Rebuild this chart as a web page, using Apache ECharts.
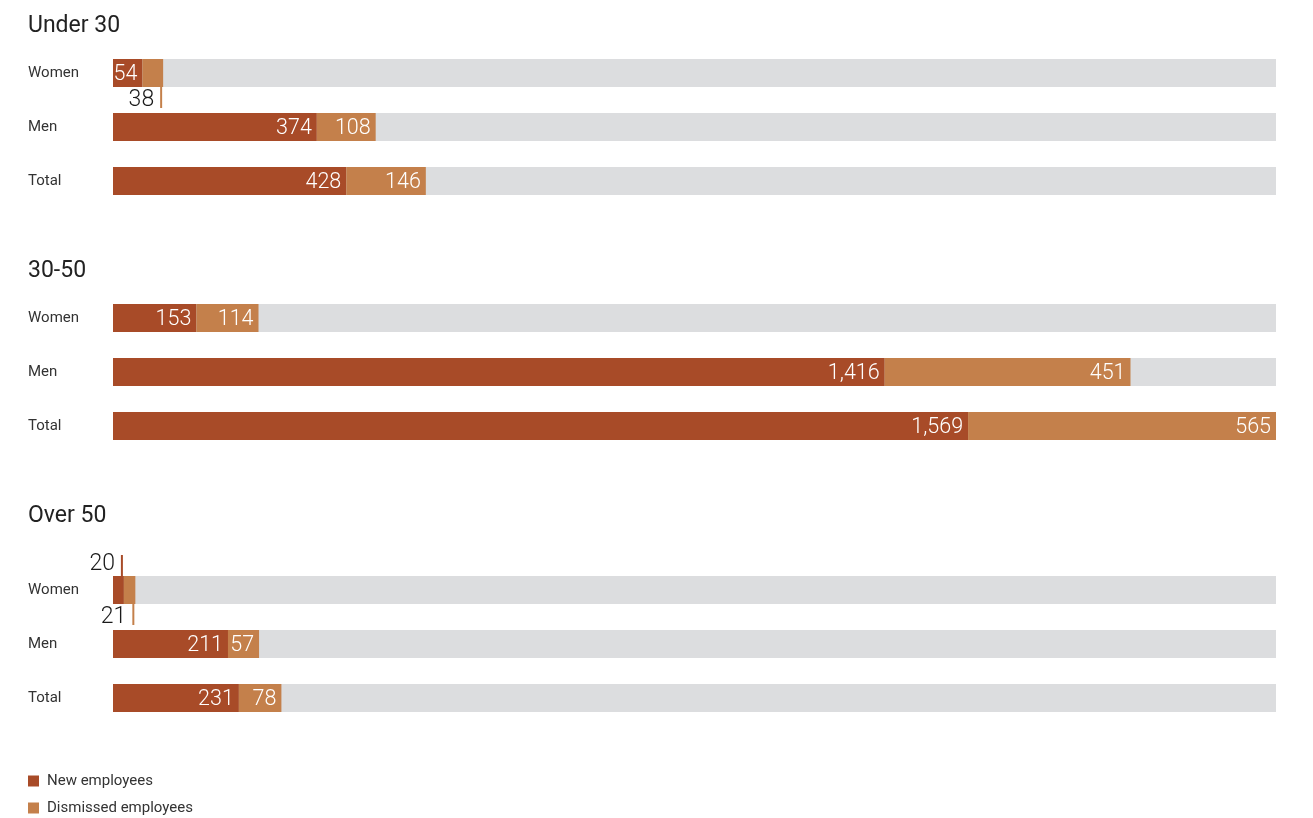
<!DOCTYPE html>
<html>
<head>
<meta charset="utf-8">
<script src="https://cdn.jsdelivr.net/npm/echarts@6/dist/echarts.min.js"></script>
<style>
html,body{margin:0;padding:0;background:#fff;}
#chart{width:1313px;height:818px;}
</style>
</head>
<body>
<div id="chart"></div>
<script>
// ---- data ----
const groups = ['Under 30', '30-50', 'Over 50'];
const rows = ['Women', 'Men', 'Total'];
const newEmployees = [[54, 374, 428], [153, 1416, 1569], [20, 211, 231]];
const dismissedEmployees = [[38, 108, 146], [114, 451, 565], [21, 57, 78]];
const seriesNames = ['New employees', 'Dismissed employees'];
const axisMax = 2134;

// ---- style ----
const COLORS = ['#A84B28', '#C4804B'];
const BG = '#DCDDDF';
const FONT = 'Roboto';
const gridTops = [46, 291, 563];
const titleTops = [15, 260, 505];
const SMALL = 50;

function fmt(v){ return v.toLocaleString('en-US'); }

function dataItems(values, seriesIdx){
  return values.map(v => {
    if (v >= SMALL) return v;
    const above = seriesIdx === 0;
    return {
      value: v,
      label: {
        show: true,
        position: above ? ['100%', 0] : ['100%', '100%'],
        align: 'right',
        verticalAlign: above ? 'bottom' : 'top',
        offset: [-1, 0],
        distance: 0,
        formatter: '{v|' + fmt(v) + '}{g|}{l|}',
        rich: {
          v: {fontSize: 23, fontFamily: FONT, fontWeight: 300, color: '#1a1a1a', lineHeight: 21, height: 21,
              padding: above ? [0, 0, 2, 0] : [5, 0, 0, 0]},
          g: {width: 6, height: 21},
          l: {width: 2, height: 21, backgroundColor: COLORS[seriesIdx]}
        }
      }
    };
  });
}

const grid = [], xAxis = [], yAxis = [], series = [], title = [];
groups.forEach((g, i) => {
  title.push({text: g, left: 28, top: titleTops[i], padding: 0,
    textStyle: {fontSize: 23, fontWeight: 'normal', color: '#222', fontFamily: FONT}});
  grid.push({left: 113, right: 37, top: gridTops[i], height: 162});
  xAxis.push({type: 'value', gridIndex: i, min: 0, max: axisMax, show: false});
  yAxis.push({type: 'category', gridIndex: i, data: rows, inverse: true,
    axisLine: {show: false}, axisTick: {show: false},
    axisLabel: {align: 'left', margin: 85, fontSize: 15, color: '#333', fontFamily: FONT,
      lineHeight: 22, padding: [4, 0, 0, 0]}});
  [newEmployees[i], dismissedEmployees[i]].forEach((vals, s) => {
    series.push({
      name: seriesNames[s], type: 'bar', stack: 'g' + i,
      xAxisIndex: i, yAxisIndex: i, barWidth: 28,
      itemStyle: {color: COLORS[s]},
      showBackground: s === 0,
      backgroundStyle: {color: BG},
      label: {show: true, position: 'insideRight', distance: 5, color: '#fff',
        fontSize: 21.5, fontWeight: 300, fontFamily: FONT, offset: [0, 2],
        formatter: p => fmt(p.value)},
      emphasis: {disabled: true},
      data: dataItems(vals, s)
    });
  });
});

const chart = echarts.init(document.getElementById('chart'));
chart.setOption({
  animation: false,
  textStyle: {fontFamily: FONT},
  title: title,
  grid: grid, xAxis: xAxis, yAxis: yAxis, series: series,
  legend: {
    data: seriesNames, orient: 'vertical', left: 28, top: 772, padding: 0,
    icon: 'rect', itemWidth: 11, itemHeight: 11, itemGap: 9,
    textStyle: {fontSize: 15, lineHeight: 18, color: '#333', fontFamily: FONT, padding: [0, 0, 0, 3]}
  }
});
</script>
</body>
</html>
